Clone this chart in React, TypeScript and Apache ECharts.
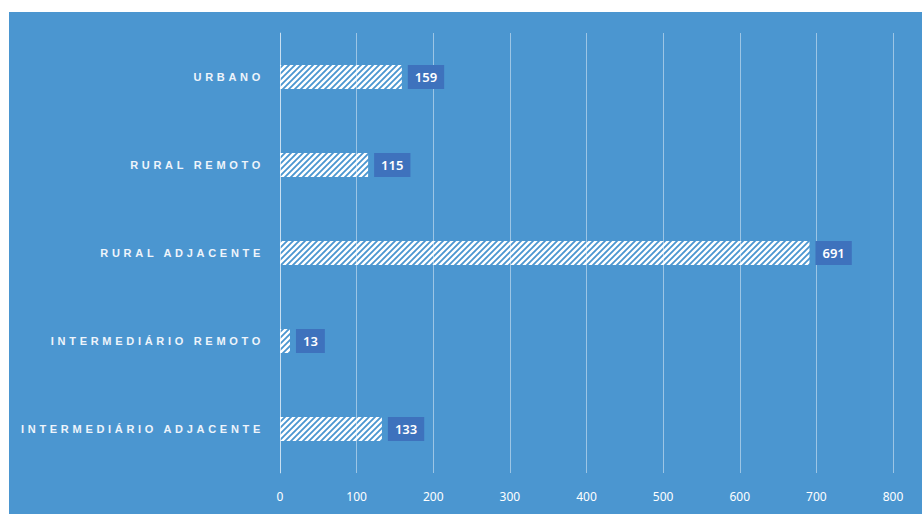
import React, { useEffect, useRef } from "react";
import * as echarts from "echarts";

const categories = [
  "INTERMEDIÁRIO ADJACENTE",
  "INTERMEDIÁRIO REMOTO",
  "RURAL ADJACENTE",
  "RURAL REMOTO",
  "URBANO",
];
const values = [133, 13, 691, 115, 159];
const xTicks = { min: 0, max: 800, interval: 100 };

const BG = "#4b96d0";

function makePattern(): HTMLCanvasElement {
  const c = document.createElement("canvas");
  const s = 6;
  c.width = s;
  c.height = s;
  const ctx = c.getContext("2d")!;
  ctx.clearRect(0, 0, s, s);
  ctx.strokeStyle = "#ffffff";
  ctx.lineWidth = 2.4;
  ctx.lineCap = "square";
  const seg = (x1: number, y1: number, x2: number, y2: number) => {
    ctx.beginPath();
    ctx.moveTo(x1, y1);
    ctx.lineTo(x2, y2);
    ctx.stroke();
  };
  seg(-1, 1, 1, -1);
  seg(0, s, s, 0);
  seg(s - 1, s + 1, s + 1, s - 1);
  return c;
}

export default function App() {
  const ref = useRef<HTMLDivElement>(null);
  useEffect(() => {
    document.body.style.margin = "0";
    const el = ref.current!;
    const chart = echarts.init(el, undefined, { renderer: "svg" });
    const pattern = makePattern();
    chart.setOption({
      animation: false,
      backgroundColor: BG,
      grid: { left: 271, right: 29, top: 21, bottom: 41 },
      xAxis: {
        type: "value",
        min: xTicks.min,
        max: xTicks.max,
        interval: xTicks.interval,
        axisLine: { show: false },
        axisTick: { show: false },
        splitLine: { show: true, lineStyle: { color: "rgba(255,255,255,0.45)", width: 1 } },
        axisLabel: {
          color: "#ffffff",
          fontFamily: "Noto Sans",
          fontSize: 12,
          margin: 17,
        },
      },
      yAxis: {
        type: "category",
        data: categories,
        axisLine: { show: true, lineStyle: { color: "rgba(255,255,255,0.45)" } },
        axisTick: { show: false },
        splitLine: { show: false },
        axisLabel: {
          color: "#eef4fb",
          fontFamily: "Liberation Sans",
          fontWeight: "bold",
          fontSize: 11,
          margin: 16,
        },
      },
      series: [
        {
          type: "bar",
          data: values,
          barWidth: 24,
          itemStyle: {
            color: { image: pattern, repeat: "repeat" },
          },
          label: {
            show: true,
            position: "right",
            distance: 6,
            color: "#ffffff",
            fontFamily: "Noto Sans",
            fontWeight: 600,
            fontSize: 13,
            backgroundColor: "#3e72bd",
            padding: [6, 7, 5, 7],
          },
        },
      ],
    });
    const applySpacing = () => {
      el.querySelectorAll("text").forEach((t) => {
        if (categories.includes((t.textContent || "").trim())) {
          t.setAttribute("letter-spacing", "3.7");
        }
      });
    };
    applySpacing();
    chart.on("finished", applySpacing);
    return () => {
      chart.dispose();
    };
  }, []);
  return (
    <div style={{ width: 922, height: 514, background: "#ffffff", position: "relative" }}>
      <div
        ref={ref}
        style={{ position: "absolute", left: 9, top: 12, width: 913, height: 502 }}
      />
    </div>
  );
}
